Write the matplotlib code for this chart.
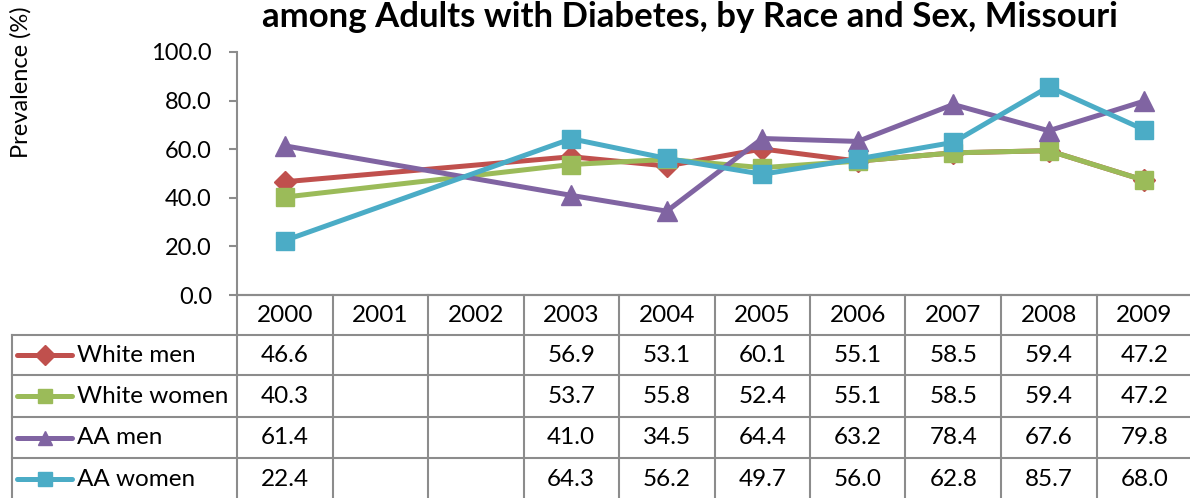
import matplotlib
matplotlib.use("Agg")
import matplotlib.pyplot as plt
from matplotlib.lines import Line2D

plt.rcParams["font.family"] = ["Lato", "DejaVu Sans"]

years = ["2000", "2001", "2002", "2003", "2004", "2005", "2006", "2007", "2008", "2009"]
series_names = ["White men", "White women", "AA men", "AA women"]
white_men = [46.6, None, None, 56.9, 53.1, 60.1, 55.1, 58.5, 59.4, 47.2]
white_women = [40.3, None, None, 53.7, 55.8, 52.4, 55.1, 58.5, 59.4, 47.2]
aa_men = [61.4, None, None, 41.0, 34.5, 64.4, 63.2, 78.4, 67.6, 79.8]
aa_women = [22.4, None, None, 64.3, 56.2, 49.7, 56.0, 62.8, 85.7, 68.0]
y_ticks = [0, 20, 40, 60, 80, 100]

all_values = [white_men, white_women, aa_men, aa_women]
colors = ["#C0504D", "#9BBB59", "#8064A2", "#4BACC6"]
markers = ["D", "s", "^", "s"]
marker_sizes = [11, 13, 14, 13]
GRID = "#8C8C8C"
FS = 17.5

W, H = 1190, 498
fig = plt.figure(figsize=(W / 100, H / 100), dpi=100)


def px_box(left, top, right, bottom):
    return [left / W, 1 - bottom / H, (right - left) / W, (bottom - top) / H]


# --- line chart ---
ax = fig.add_axes(px_box(237, 52, 1192, 295))
for vals, c, m, ms in zip(all_values, colors, markers, marker_sizes):
    xs = [i for i, v in enumerate(vals) if v is not None]
    ys = [v for v in vals if v is not None]
    ax.plot(xs, ys, color=c, linewidth=3.6, marker=m, markersize=ms,
            clip_on=False, zorder=3)
ax.set_xlim(-0.5, len(years) - 0.5)
ax.set_ylim(0, 100)
ax.set_yticks(y_ticks)
ax.set_yticklabels([f"{t:.1f}" for t in y_ticks], fontsize=17)
ax.set_xticks([])
ax.tick_params(axis="y", direction="out", length=6, width=1.5, color=GRID, pad=12)
for side in ("top", "right"):
    ax.spines[side].set_visible(False)
for side in ("left", "bottom"):
    ax.spines[side].set_color(GRID)
    ax.spines[side].set_linewidth(1.5)

fig.text(690 / W, 1 - 17 / H,
         "among Adults with Diabetes, by Race and Sex, Missouri",
         ha="center", va="center", fontsize=25, fontweight="bold")
fig.text(21 / W, 1 - 82 / H, "Prevalence (%)", rotation=90,
         ha="center", va="center", fontsize=17)

# --- data table ---
col_w = (1192 - 237) / len(years)
left_ext = -0.5 - (237 - 12) / col_w
row_edges = [295, 335, 375, 417, 458, 500]
tab = fig.add_axes(px_box(12, 295, 1192, 498))
tab.set_xlim(left_ext, len(years) - 0.5)
tab.set_ylim(498, 295)
tab.axis("off")

lk = dict(color=GRID, linewidth=1.5, clip_on=False)
# header row
tab.plot([-0.5, len(years) - 0.5], [295, 295], **lk)
for i in range(len(years) + 1):
    tab.plot([i - 0.5, i - 0.5], [295, 500], **lk)
for r in row_edges[1:-1]:
    tab.plot([left_ext, len(years) - 0.5], [r, r], **lk)
tab.plot([left_ext, left_ext], [335, 500], **lk)

for i, yr in enumerate(years):
    tab.text(i, (row_edges[0] + row_edges[1]) / 2, yr,
             ha="center", va="center", fontsize=FS)

key_x0 = left_ext + (17 - 12) / col_w
key_x1 = left_ext + (72 - 12) / col_w
text_x = left_ext + (77 - 12) / col_w
for r, (name, vals, c, m) in enumerate(zip(series_names, all_values, colors, markers)):
    yc = (row_edges[r + 1] + row_edges[r + 2]) / 2
    tab.add_line(Line2D([key_x0, key_x1], [yc, yc], color=c, linewidth=3.6,
                        solid_capstyle="round", clip_on=False))
    tab.plot([(key_x0 + key_x1) / 2], [yc], marker=m, color=c,
             markersize=10, clip_on=False)
    tab.text(text_x, yc, name, ha="left", va="center", fontsize=FS)
    for i, v in enumerate(vals):
        if v is not None:
            tab.text(i, yc, f"{v:.1f}", ha="center", va="center", fontsize=FS)

fig.savefig("out.png", dpi=100)
